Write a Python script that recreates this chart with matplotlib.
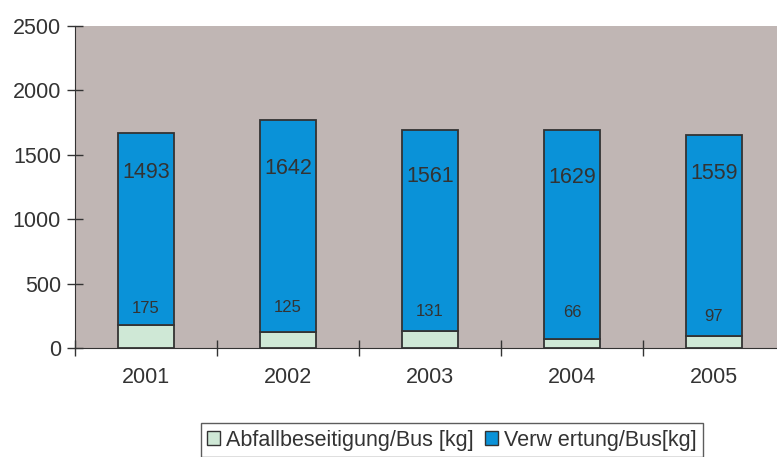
import matplotlib
matplotlib.use("Agg")
import matplotlib.pyplot as plt
from matplotlib.patches import Patch
import numpy as np

plt.rcParams['font.family'] = ['Liberation Sans', 'DejaVu Sans']

years = ["2001", "2002", "2003", "2004", "2005"]
abfall = [175, 125, 131, 66, 97]
verwertung = [1493, 1642, 1561, 1629, 1559]
big_label_y = [1366, 1390, 1328, 1320, 1351]
small_label_y = [305, 311, 287, 272, 248]

bg = "#C0B6B4"
blue = "#0A92D8"
green = "#CFE8D6"
edge = "#333333"
txt = "#333333"

fig = plt.figure(figsize=(7.77, 4.57), dpi=100)
ax = fig.add_axes([75/777, 109/457, 710/777, 322/457])
ax.set_facecolor(bg)

x = np.arange(len(years))
ax.bar(x, abfall, width=0.4, color=green, edgecolor=edge, linewidth=1.3, zorder=3)
ax.bar(x, verwertung, width=0.4, bottom=abfall, color=blue, edgecolor=edge, linewidth=1.3, zorder=3)

for i in range(len(years)):
    ax.text(x[i], big_label_y[i], str(verwertung[i]), ha='center', va='center',
            fontsize=15.5, color=txt, zorder=4)
    ax.text(x[i], small_label_y[i], str(abfall[i]), ha='center', va='center',
            fontsize=12, color=txt, zorder=4)

ax.set_xlim(-0.5, len(years) - 0.5)
ax.set_ylim(0, 2500)
ax.set_yticks([0, 500, 1000, 1500, 2000, 2500])
ax.tick_params(axis='y', direction='inout', length=12, width=1, color=edge,
               labelsize=15.5, labelcolor=txt, pad=4)
ax.set_xticks(x)
ax.set_xticklabels(years)
ax.tick_params(axis='x', which='major', length=0, labelsize=15.5, labelcolor=txt, pad=14)
ax.set_xticks(np.arange(len(years) + 1) - 0.5, minor=True)
ax.tick_params(axis='x', which='minor', direction='inout', length=12, width=1, color=edge)

for s in ['top', 'right']:
    ax.spines[s].set_visible(False)
ax.spines['left'].set_color(edge)
ax.spines['bottom'].set_color(edge)

handles = [Patch(facecolor=green, edgecolor=edge, label="Abfallbeseitigung/Bus [kg]"),
           Patch(facecolor=blue, edgecolor=edge, label="Verw ertung/Bus[kg]")]
leg = fig.legend(handles=handles, loc='lower center', bbox_to_anchor=(452/777, 0.0),
                 ncol=2, fontsize=15.5, frameon=True, fancybox=False,
                 handlelength=0.6, handleheight=0.6, handletextpad=0.3, columnspacing=0.5,
                 borderpad=0.3, borderaxespad=0)
leg.get_frame().set_edgecolor(edge)
leg.get_frame().set_linewidth(1)
for t in leg.get_texts():
    t.set_color(txt)

fig.savefig("out.png", dpi=100)
